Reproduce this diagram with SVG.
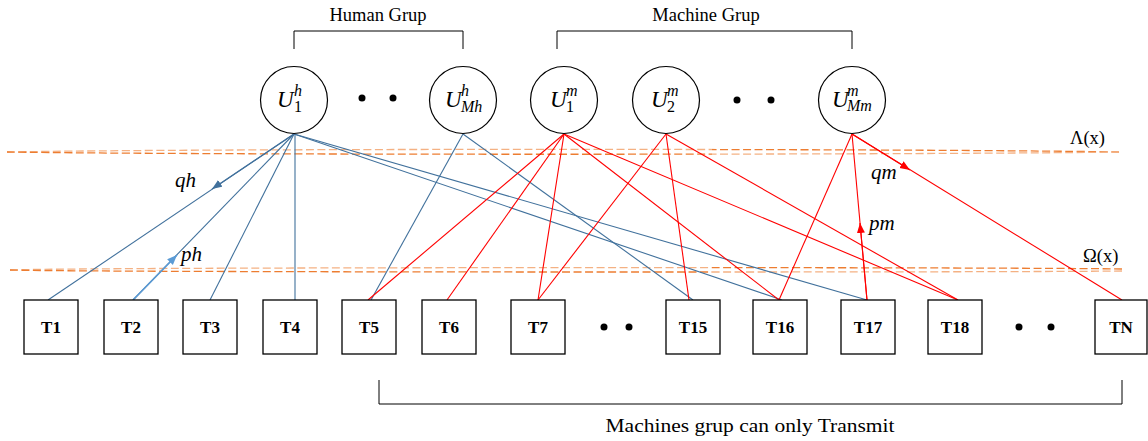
<svg xmlns="http://www.w3.org/2000/svg" width="1148" height="441" viewBox="0 0 1148 441">
  <style>
    .node circle { fill: #ffffff; stroke: #000000; stroke-width: 1.2; }
    .box rect { fill: #ffffff; stroke: #000000; stroke-width: 1.3; }
    .box text { font-family: "Liberation Serif", serif; font-weight: bold; font-size: 17px; text-anchor: middle; fill: #000; }
    .u { font-family: "Liberation Serif", serif; font-style: italic; font-size: 23px; fill: #000; }
    .sup { font-family: "Liberation Serif", serif; font-style: italic; font-size: 16px; fill: #000; }
    .num { font-family: "Liberation Serif", serif; font-size: 16px; fill: #000; }
    .lbl { font-family: "Liberation Serif", serif; font-size: 18.5px; fill: #000; }
    .prob { font-family: "Liberation Serif", serif; font-style: italic; font-size: 21px; fill: #000; }
    .brace { fill: none; stroke: #000; stroke-width: 1; }
    .blue { stroke: #41719c; stroke-width: 1.1; fill: none; }
    .red { stroke: #ff0000; stroke-width: 1.1; fill: none; }
    .dash { fill: none; stroke-width: 1.3; stroke-dasharray: 8 3.5; }
    .dot { fill: #000; }
  </style>
  <defs>
    <marker id="arrBlue" markerUnits="userSpaceOnUse" markerWidth="12" markerHeight="10" refX="10" refY="4" orient="auto">
      <path d="M0,0 L10,4 L0,8 z" fill="#41719c"/>
    </marker>
    <marker id="arrLight" markerUnits="userSpaceOnUse" markerWidth="12" markerHeight="10" refX="10" refY="4" orient="auto">
      <path d="M0,0 L10,4 L0,8 z" fill="#5b9bd5"/>
    </marker>
    <marker id="arrRed" markerUnits="userSpaceOnUse" markerWidth="12" markerHeight="10" refX="10" refY="4" orient="auto">
      <path d="M0,0 L10,4 L0,8 z" fill="#ff0000"/>
    </marker>
    <linearGradient id="dashA" gradientUnits="userSpaceOnUse" x1="0" y1="0" x2="1148" y2="0">
      <stop offset="0" stop-color="#f4b183"/>
      <stop offset="0.62" stop-color="#f4b183"/>
      <stop offset="0.62" stop-color="#ed7d31"/>
      <stop offset="1" stop-color="#ed7d31"/>
    </linearGradient>
    <linearGradient id="dashB" gradientUnits="userSpaceOnUse" x1="0" y1="0" x2="1148" y2="0">
      <stop offset="0" stop-color="#ed7d31"/>
      <stop offset="0.62" stop-color="#ed7d31"/>
      <stop offset="0.62" stop-color="#f4b183"/>
      <stop offset="1" stop-color="#f4b183"/>
    </linearGradient>
  </defs>

  <!-- group brackets and their captions -->
  <g id="brackets">
    <path class="brace" d="M294,49 V31 H463 V49"/>
    <text class="lbl" x="378" y="21" text-anchor="middle">Human Grup</text>
    <path class="brace" d="M557,49 V31 H852 V49"/>
    <text class="lbl" x="706" y="21" text-anchor="middle">Machine Grup</text>
    <path class="brace" d="M379,380 V404 H1122 V380"/>
    <text class="lbl" x="750" y="432" text-anchor="middle" font-size="20" textLength="289" lengthAdjust="spacingAndGlyphs">Machines grup can only Transmit</text>
  </g>

  <!-- threshold bands -->
  <g id="thresholds">
    <path class="dash" stroke="url(#dashA)" d="M7,152 C200,148.5 900,148.5 1120,152"/>
    <path class="dash" stroke="url(#dashB)" d="M7,152 C200,155 900,155 1120,152"/>
    <text class="lbl" x="1070" y="144">Λ(x)</text>
    <path class="dash" stroke="url(#dashA)" d="M10,270 C100,267 1000,267 1122,269"/>
    <path class="dash" stroke="url(#dashB)" d="M10,270 C100,272.5 1000,272.5 1122,271"/>
    <text class="lbl" x="1083" y="262">Ω(x)</text>
  </g>

  <!-- links between users and terminals -->
  <g id="connectors">
    <line class="blue" x1="294" y1="134" x2="48" y2="300"/>
    <line class="blue" x1="294" y1="134" x2="212" y2="189" stroke-width="1.6" marker-end="url(#arrBlue)"/>
    <line class="blue" x1="294" y1="134" x2="133" y2="300"/>
    <line x1="133" y1="300" x2="177" y2="255" stroke="#5b9bd5" stroke-width="1.6" marker-end="url(#arrLight)"/>
    <line class="blue" x1="294" y1="134" x2="210" y2="300"/>
    <line class="blue" x1="295" y1="134" x2="295" y2="300"/>
    <line class="blue" x1="294" y1="134" x2="782" y2="300"/>
    <line class="blue" x1="294" y1="134" x2="867" y2="300"/>
    <line class="blue" x1="463" y1="134" x2="371" y2="300"/>
    <line class="blue" x1="463" y1="134" x2="693" y2="300"/>

    <line class="red" x1="564" y1="134" x2="368" y2="300"/>
    <line class="red" x1="564" y1="134" x2="447" y2="300"/>
    <line class="red" x1="564" y1="134" x2="538" y2="300"/>
    <line class="red" x1="564" y1="134" x2="779" y2="300"/>
    <line class="red" x1="564" y1="134" x2="958" y2="300"/>
    <line class="red" x1="666" y1="134" x2="538" y2="300"/>
    <line class="red" x1="666" y1="134" x2="689" y2="300"/>
    <line class="red" x1="666" y1="134" x2="958" y2="300"/>
    <line class="red" x1="852" y1="134" x2="779" y2="300"/>
    <line class="red" x1="852" y1="134" x2="867" y2="300" stroke-width="1.6"/>
    <line class="red" x1="867" y1="300" x2="860" y2="223" stroke-width="1.6" marker-end="url(#arrRed)"/>
    <line class="red" x1="852" y1="134" x2="1122" y2="300"/>
    <line class="red" x1="852" y1="134" x2="910" y2="170" marker-end="url(#arrRed)"/>

    <text class="prob" x="175" y="187">qh</text>
    <text class="prob" x="181" y="261">ph</text>
    <text class="prob" x="871" y="179">qm</text>
    <text class="prob" x="869" y="230">pm</text>
  </g>

  <!-- user nodes -->
  <g id="U1h" class="node">
    <circle cx="294" cy="100" r="33.5"/>
    <text class="u" x="277" y="107">U</text>
    <text class="sup" x="294" y="96">h</text>
    <text class="num" x="294" y="112">1</text>
  </g>
  <g id="human-ellipsis">
    <circle class="dot" cx="362" cy="98" r="3.5"/>
    <circle class="dot" cx="393" cy="98" r="3.5"/>
  </g>
  <g id="UMh" class="node">
    <circle cx="463" cy="100" r="33.5"/>
    <text class="u" x="445" y="107">U</text>
    <text class="sup" x="461" y="96">h</text>
    <text class="sup" x="461" y="112">Mh</text>
  </g>
  <g id="U1m" class="node">
    <circle cx="564" cy="100" r="33.5"/>
    <text class="u" x="550" y="107">U</text>
    <text class="sup" x="566" y="96">m</text>
    <text class="num" x="566" y="112">1</text>
  </g>
  <g id="U2m" class="node">
    <circle cx="666" cy="100" r="33.5"/>
    <text class="u" x="651" y="107">U</text>
    <text class="sup" x="667" y="96">m</text>
    <text class="num" x="667" y="112">2</text>
  </g>
  <g id="machine-ellipsis">
    <circle class="dot" cx="737" cy="100" r="3.5"/>
    <circle class="dot" cx="771" cy="100" r="3.5"/>
  </g>
  <g id="UMm" class="node">
    <circle cx="852" cy="100" r="33.5"/>
    <text class="u" x="832" y="107" font-size="20">U</text>
    <text class="sup" x="847" y="96" font-size="14">m</text>
    <text class="sup" x="847" y="111" font-size="14">Mm</text>
  </g>

  <!-- terminal nodes -->
  <g id="T1" class="box"><rect x="24" y="300" width="54" height="54"/><text x="51" y="333">T1</text></g>
  <g id="T2" class="box"><rect x="104" y="300" width="54" height="54"/><text x="131" y="333">T2</text></g>
  <g id="T3" class="box"><rect x="183" y="300" width="54" height="54"/><text x="210" y="333">T3</text></g>
  <g id="T4" class="box"><rect x="263" y="300" width="54" height="54"/><text x="290" y="333">T4</text></g>
  <g id="T5" class="box"><rect x="342" y="300" width="54" height="54"/><text x="369" y="333">T5</text></g>
  <g id="T6" class="box"><rect x="422" y="300" width="54" height="54"/><text x="449" y="333">T6</text></g>
  <g id="T7" class="box"><rect x="511" y="300" width="54" height="54"/><text x="538" y="333">T7</text></g>
  <g id="terminal-ellipsis-1">
    <circle class="dot" cx="604" cy="327" r="3.5"/>
    <circle class="dot" cx="629" cy="327" r="3.5"/>
  </g>
  <g id="T15" class="box"><rect x="666" y="300" width="54" height="54"/><text x="693" y="333">T15</text></g>
  <g id="T16" class="box"><rect x="753" y="300" width="54" height="54"/><text x="780" y="333">T16</text></g>
  <g id="T17" class="box"><rect x="841" y="300" width="54" height="54"/><text x="868" y="333">T17</text></g>
  <g id="T18" class="box"><rect x="928" y="300" width="54" height="54"/><text x="955" y="333">T18</text></g>
  <g id="terminal-ellipsis-2">
    <circle class="dot" cx="1019" cy="327" r="3.5"/>
    <circle class="dot" cx="1051" cy="327" r="3.5"/>
  </g>
  <g id="TN" class="box"><rect x="1095" y="300" width="52" height="54"/><text x="1121" y="333">TN</text></g>
</svg>
